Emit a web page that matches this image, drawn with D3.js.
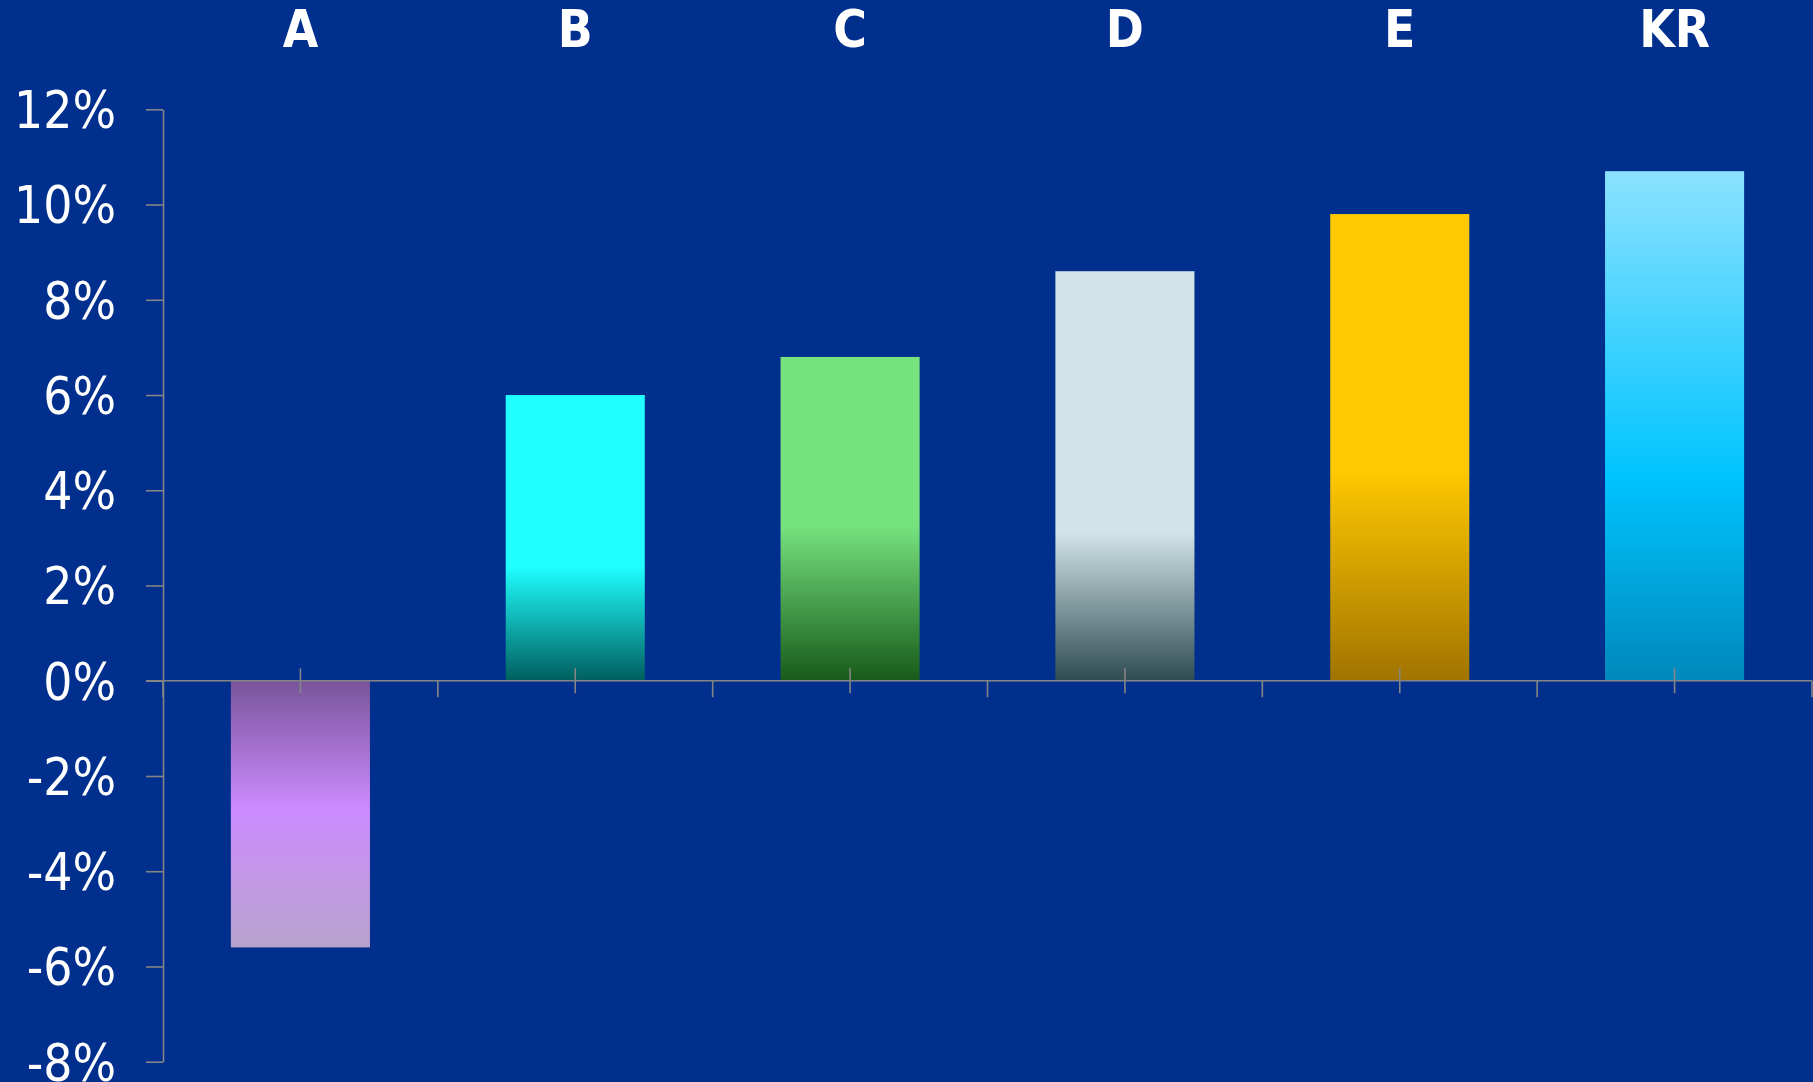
<!DOCTYPE html>
<html>
<head>
<meta charset="utf-8">
<script src="https://cdn.jsdelivr.net/npm/d3@7"></script>
<style>
  html, body { margin: 0; padding: 0; background: #002f8e; }
  svg { display: block; }
  .lbl { font-family: "DejaVu Sans Condensed", "DejaVu Sans", sans-serif; font-stretch: condensed; fill: #ffffff; }
</style>
</head>
<body>
<svg id="chart" width="1813" height="1082"></svg>
<script>
// Data
const categories = ["A", "B", "C", "D", "E", "KR"];
const values = [-5.6, 6.0, 6.8, 8.6, 9.8, 10.7];          // percent
const yTicks = [-8, -6, -4, -2, 0, 2, 4, 6, 8, 10, 12];

// Vertical gradient for each bar, top to bottom: [offset, colour]
const barGradients = [
  [[0, "#78549a"], [0.48, "#cc8cff"], [1, "#b8a2cc"]],
  [[0, "#1fffff"], [0.6, "#1fffff"], [1, "#005e5e"]],
  [[0, "#76e37f"], [0.52, "#76e37f"], [1, "#185a1a"]],
  [[0, "#d0e3e6"], [0.64, "#d0e3e6"], [1, "#2e4c52"]],
  [[0, "#ffc800"], [0.55, "#ffc800"], [1, "#a07400"]],
  [[0, "#8ce2ff"], [0.6, "#00c4ff"], [1, "#0088bb"]]
];

const W = 1813, H = 1082;
const axisColor = "#858585";
const svg = d3.select("#chart");

svg.append("rect").attr("width", W).attr("height", H).attr("fill", "#002f8e");

const x = d3.scaleBand().domain(categories).range([163, 1812])
  .paddingInner(0.494).paddingOuter(0.247);
const y = d3.scaleLinear().domain([-8, 12]).range([1061.7, 109.3]);

// Gradients
const defs = svg.append("defs");
barGradients.forEach((stops, i) => {
  const g = defs.append("linearGradient").attr("id", "grad" + i)
    .attr("x1", 0).attr("y1", 0).attr("x2", 0).attr("y2", 1);
  stops.forEach(([o, c]) => g.append("stop").attr("offset", o).attr("stop-color", c));
});

// Bars
svg.append("g").selectAll("rect").data(values).join("rect")
  .attr("x", (d, i) => x(categories[i]))
  .attr("width", x.bandwidth())
  .attr("y", d => y(Math.max(0, d)))
  .attr("height", d => Math.abs(y(d) - y(0)))
  .attr("fill", (d, i) => `url(#grad${i})`);

// Y axis
const yAxis = svg.append("g").attr("transform", "translate(163,0)")
  .call(d3.axisLeft(y).tickValues(yTicks).tickSizeInner(17).tickSizeOuter(0)
    .tickPadding(30).tickFormat(d => d + "%"));
yAxis.select(".domain").attr("stroke", axisColor).attr("stroke-width", 1.6);
yAxis.selectAll(".tick line").attr("stroke", axisColor).attr("stroke-width", 1.6);
yAxis.selectAll(".tick text")
  .attr("class", "lbl").attr("font-size", 51).attr("dy", "0.36em").attr("fill", "#ffffff");

// X axis at zero
const y0 = y(0);
const xg = svg.append("g");
xg.append("line").attr("x1", 146).attr("x2", 1812).attr("y1", y0).attr("y2", y0)
  .attr("stroke", axisColor).attr("stroke-width", 1.6);
// Crossing ticks at category centres
xg.selectAll(".ctick").data(categories).join("line").attr("class", "ctick")
  .attr("x1", d => x(d) + x.bandwidth() / 2).attr("x2", d => x(d) + x.bandwidth() / 2)
  .attr("y1", y0 - 12.5).attr("y2", y0 + 12.5)
  .attr("stroke", axisColor).attr("stroke-width", 1.6);
// Outward ticks at category boundaries
const bounds = categories.map(d => x(d) - x.step() * x.paddingInner() / 2)
  .concat([x(categories[categories.length - 1]) + x.bandwidth() + x.step() * x.paddingInner() / 2]);
xg.selectAll(".btick").data(bounds).join("line").attr("class", "btick")
  .attr("x1", d => d).attr("x2", d => d)
  .attr("y1", y0).attr("y2", y0 + 16.5)
  .attr("stroke", axisColor).attr("stroke-width", 1.6);

// Category labels along the top
svg.append("g").selectAll("text").data(categories).join("text")
  .attr("class", "lbl")
  .attr("x", d => x(d) + x.bandwidth() / 2)
  .attr("y", 46.5)
  .attr("text-anchor", "middle")
  .attr("font-size", 51)
  .attr("font-weight", "bold")
  .text(d => d);
</script>
</body>
</html>
